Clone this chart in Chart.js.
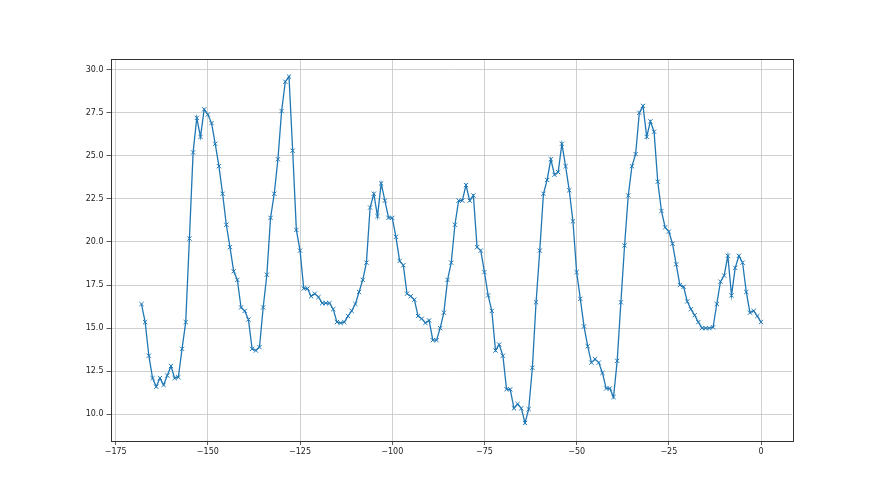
<!DOCTYPE html>
<html>
<head>
<meta charset="utf-8">
<title>Series</title>
<script src="https://cdn.jsdelivr.net/npm/chart.js@4.4.1/dist/chart.umd.min.js"></script>
<style>
  html, body { margin: 0; padding: 0; background: #fff; }
  #chart { display: block; }
</style>
</head>
<body>
<canvas id="chart" width="880" height="495"></canvas>
<script>
// x runs from -168 to 0, one point per step
const xStart = -168;

// values, oldest first
const values = [
  16.4, 15.35, 13.4, 12.1, 11.6, 12.1, 11.7, 12.25, 12.8, 12.1,
  12.15, 13.8, 15.35, 20.2, 25.2, 27.2, 26.1, 27.7, 27.4, 26.9,
  25.7, 24.4, 22.8, 21.0, 19.7, 18.3, 17.8, 16.2, 16.0, 15.5,
  13.8, 13.7, 13.9, 16.2, 18.1, 21.4, 22.8, 24.8, 27.6, 29.3,
  29.6, 25.3, 20.7, 19.5, 17.3, 17.3, 16.85, 17.0, 16.8, 16.45,
  16.45, 16.45, 16.1, 15.35, 15.3, 15.35, 15.7, 16.0, 16.4, 17.1,
  17.8, 18.8, 22.0, 22.8, 21.5, 23.4, 22.4, 21.4, 21.4, 20.3,
  18.9, 18.65, 17.0, 16.85, 16.65, 15.7, 15.55, 15.3, 15.45, 14.3,
  14.3, 15.0, 15.9, 17.8, 18.8, 21.0, 22.4, 22.4, 23.3, 22.4,
  22.7, 19.7, 19.5, 18.25, 16.9, 16.0, 13.7, 14.05, 13.4, 11.45,
  11.45, 10.35, 10.6, 10.35, 9.5, 10.3, 12.7, 16.5, 19.5, 22.8,
  23.6, 24.8, 23.9, 24.05, 25.7, 24.4, 23.0, 21.2, 18.25, 16.7,
  15.1, 13.95, 13.0, 13.2, 13.0, 12.4, 11.5, 11.5, 11.0, 13.1,
  16.5, 19.8, 22.7, 24.4, 25.1, 27.5, 27.9, 26.1, 27.0, 26.4,
  23.5, 21.8, 20.85, 20.6, 19.9, 18.7, 17.5, 17.4, 16.55, 16.1,
  15.75, 15.35, 15.0, 15.0, 15.0, 15.05, 16.4, 17.7, 18.05, 19.2,
  16.9, 18.5, 19.2, 18.8, 17.1, 15.9, 16.0, 15.7, 15.35
];

// tick positions shown on the axes
const xTicks = [-175, -150, -125, -100, -75, -50, -25, 0];
const yTicks = [10, 12.5, 15, 17.5, 20, 22.5, 25, 27.5, 30];

const points = values.map((v, i) => ({ x: xStart + i, y: v }));

// draws all four spines as one thin frame
const framePlugin = {
  id: 'frame',
  afterDraw(chart) {
    const a = chart.chartArea;
    const ctx = chart.ctx;
    ctx.save();
    ctx.strokeStyle = '#333';
    ctx.lineWidth = 1;
    ctx.strokeRect(Math.round(a.left) + 0.5, Math.round(a.top) + 0.5,
                   Math.round(a.right - a.left), Math.round(a.bottom - a.top));
    ctx.restore();
  }
};

const tickFont = { family: 'DejaVu Sans', size: 8 };

new Chart(document.getElementById('chart'), {
  type: 'line',
  data: {
    datasets: [{
      data: points,
      borderColor: '#1f77b4',
      backgroundColor: '#1f77b4',
      borderWidth: 1.3,
      tension: 0,
      pointStyle: 'crossRot',
      pointRadius: 3,
      pointHoverRadius: 3,
      pointBorderWidth: 1,
      pointBorderColor: '#1f77b4'
    }]
  },
  options: {
    responsive: false,
    animation: false,
    devicePixelRatio: 1,
    layout: { padding: { left: 60, right: 88, top: 59, bottom: 0 } },
    plugins: {
      legend: { display: false },
      tooltip: { enabled: false }
    },
    scales: {
      x: {
        type: 'linear',
        min: -176.4,
        max: 8.4,
        afterBuildTicks: (scale) => { scale.ticks = xTicks.map(v => ({ value: v })); },
        afterFit: (scale) => { scale.height = 54; },
        grid: { color: '#c4c4c4', lineWidth: 0.8, tickColor: '#333', tickLength: 4 },
        border: { display: false },
        ticks: { font: tickFont, color: '#222', padding: 2, maxRotation: 0,
                 callback: (v) => v === 0 ? '0' : String(v).replace('-', '\u2212') }
      },
      y: {
        type: 'linear',
        min: 8.45,
        max: 30.62,
        afterBuildTicks: (scale) => { scale.ticks = yTicks.map(v => ({ value: v })); },
        afterFit: (scale) => { scale.width = 50.5; },
        grid: { color: '#c4c4c4', lineWidth: 0.8, tickColor: '#333', tickLength: 4 },
        border: { display: false },
        ticks: { font: tickFont, color: '#222', padding: 3,
                 callback: (v) => v.toFixed(1) }
      }
    }
  },
  plugins: [framePlugin]
});
</script>
</body>
</html>
